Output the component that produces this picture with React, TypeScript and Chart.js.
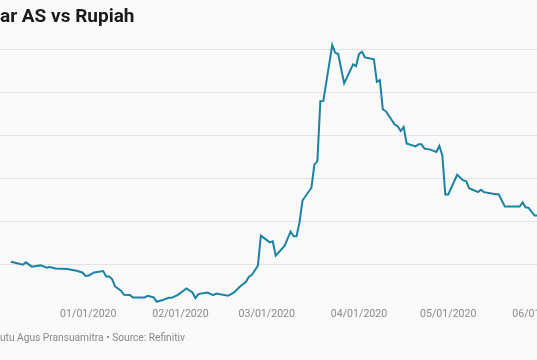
import React, { useEffect, useRef } from "react";
import { Chart, registerables } from "chart.js";

Chart.register(...registerables);

// Days counted from 2020-01-01
const DAY_OFFSETS = [
  -26, -22, -21, -19, -16, -14, -13, -11, -7, -4, -2, -1, 0, 2, 5, 6, 7, 8, 9, 11,
  12, 14, 15, 19, 20, 22, 23, 25, 27, 28, 30, 33, 35, 36, 37, 40, 42, 43, 47, 49,
  51, 53, 54, 55, 57, 58, 61, 62, 63, 66, 68, 69, 70, 71, 72, 75, 76, 77, 78, 79,
  82, 83, 84, 86, 89, 90, 91, 92, 93, 96, 97, 98, 99, 100, 103, 104, 105, 106, 107, 110,
  111, 112, 113, 115, 117, 118, 119, 120, 121, 124, 126, 127, 128, 131, 132, 133, 136, 138, 140, 145,
  146, 147, 148, 150, 153,
];

// USD/IDR
const RATES = [
  14035, 14000, 14027, 13977, 13992, 13965, 13973, 13957, 13950, 13930, 13910, 13872, 13872, 13910, 13927, 13864, 13864, 13834, 13748, 13698,
  13651, 13648, 13620, 13620, 13640, 13620, 13570, 13590, 13616, 13616, 13648, 13724, 13678, 13613, 13659, 13678, 13648, 13666, 13640, 13678,
  13748, 13802, 13860, 13884, 13988, 14337, 14259, 14271, 14105, 14221, 14384, 14329, 14329, 14492, 14744, 14892, 15163, 15198, 15895, 15899,
  16547, 16457, 16442, 16101, 16322, 16302, 16442, 16469, 16403, 16380, 16120, 16140, 15799, 15779, 15624, 15605, 15550, 15597, 15404, 15372,
  15395, 15395, 15345, 15334, 15306, 15376, 15267, 14814, 14814, 15043, 14977, 14969, 14887, 14841, 14869, 14841, 14822, 14814, 14674, 14674,
  14724, 14666, 14659, 14570, 14570,
];

const TICK_DAYS = [0, 31, 60, 91, 121, 152];
const GRID_VALUES = [14000, 14500, 15000, 15500, 16000, 16500];

const TITLE_HIDDEN = "Dol";
const TITLE_VISIBLE = "ar AS vs Rupiah";
const FOOTER_HIDDEN = "Chart: P";
const FOOTER_VISIBLE = "utu Agus Pransuamitra \u2022 Source: Refinitiv";

const X_MIN = -49.85;
const X_MAX = 172.0;

function formatDay(d: number): string {
  const dt = new Date(Date.UTC(2020, 0, 1) + d * 86400000);
  const mm = String(dt.getUTCMonth() + 1).padStart(2, "0");
  const dd = String(dt.getUTCDate()).padStart(2, "0");
  return `${mm}/${dd}/${dt.getUTCFullYear()}`;
}

export default function App() {
  const ref = useRef<HTMLCanvasElement>(null);

  useEffect(() => {
    const chart = new Chart(ref.current!, {
      type: "line",
      data: {
        datasets: [
          {
            data: DAY_OFFSETS.map((d, i) => ({ x: d, y: RATES[i] })),
            borderColor: "#1b82a4",
            borderWidth: 2,
            pointRadius: 0,
            tension: 0,
            fill: false,
          },
        ],
      },
      options: {
        animation: false,
        responsive: false,
        maintainAspectRatio: false,
        layout: { padding: { left: 0, right: 0, top: 40.4, bottom: 34.9 } },
        plugins: {
          legend: { display: false },
          tooltip: { enabled: false },
          title: { display: false },
        },
        scales: {
          x: {
            type: "linear",
            min: X_MIN,
            max: X_MAX,
            grid: { display: false, drawTicks: false },
            border: { display: false },
            afterBuildTicks: (s: any) => {
              s.ticks = TICK_DAYS.map((v) => ({ value: v }));
            },
            ticks: {
              autoSkip: false,
              maxRotation: 0,
              padding: 4,
              color: "#8a8a8a",
              font: { family: "Roboto", size: 10.6 },
              callback: (v: any) => formatDay(Number(v)),
            },
          },
          y: {
            type: "linear",
            min: 13540,
            max: 16600,
            grid: { color: "#e2e2e2", drawTicks: false, lineWidth: 1 },
            border: { display: false },
            ticks: { display: false },
            afterBuildTicks: (s: any) => {
              s.ticks = GRID_VALUES.map((v) => ({ value: v }));
            },
          },
        },
      },
    });
    return () => chart.destroy();
  }, []);

  return (
    <div
      style={{
        position: "fixed",
        left: 0,
        top: 0,
        width: 537,
        height: 360,
        overflow: "hidden",
        background: "#f9f9f9",
      }}
    >
      <div style={{ position: "absolute", left: -60, top: 0, width: 660, height: 360 }}>
        <canvas ref={ref} width={660} height={360} style={{ display: "block" }} />
      </div>
      <div
        style={{
          position: "absolute",
          left: 0,
          top: 6,
          whiteSpace: "nowrap",
          fontFamily: "Roboto, sans-serif",
          fontWeight: 700,
          fontSize: 19,
          lineHeight: "19px",
          color: "#1a1a1a",
        }}
      >
        <span style={{ position: "absolute", right: "100%" }}>{TITLE_HIDDEN}</span>
        {TITLE_VISIBLE}
      </div>
      <div
        style={{
          position: "absolute",
          left: 0,
          top: 332,
          whiteSpace: "nowrap",
          fontFamily: "Roboto, sans-serif",
          fontSize: 10.2,
          lineHeight: "11px",
          color: "#888888",
        }}
      >
        <span style={{ position: "absolute", right: "100%" }}>{FOOTER_HIDDEN}</span>
        {FOOTER_VISIBLE}
      </div>
    </div>
  );
}
